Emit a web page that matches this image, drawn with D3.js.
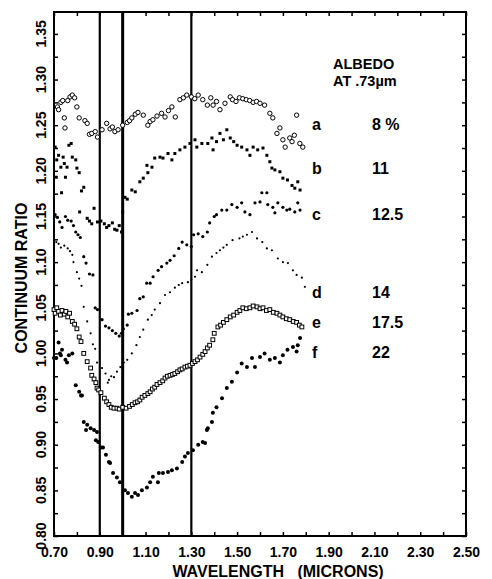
<!DOCTYPE html>
<html>
<head>
<meta charset="utf-8">
<script src="https://cdn.jsdelivr.net/npm/d3@7"></script>
<style>
  body { margin: 0; background: #fff; }
  svg text { font-family: "Liberation Sans", Arial, sans-serif; font-weight: bold; fill: #000; }
</style>
</head>
<body>
<div id="chart"></div>
<script>
// 各曲線のデータ [波長(μm), 連続体比]
const curveA = [[0.715,1.270],[0.72,1.267],[0.73,1.275],[0.738,1.277],[0.745,1.258],[0.748,1.247],[0.76,1.277],[0.77,1.281],[0.78,1.283],[0.79,1.280],[0.80,1.270],[0.81,1.258],[0.835,1.255],[0.845,1.252],[0.855,1.240],[0.865,1.241],[0.88,1.243],[0.89,1.237],[0.91,1.245],[0.93,1.252],[0.945,1.246],[0.955,1.248],[0.966,1.243],[0.98,1.245],[1.00,1.250],[1.02,1.253],[1.03,1.255],[1.04,1.258],[1.055,1.262],[1.067,1.264],[1.09,1.261],[1.11,1.250],[1.12,1.254],[1.132,1.256],[1.15,1.260],[1.17,1.263],[1.185,1.259],[1.20,1.266],[1.215,1.270],[1.23,1.259],[1.25,1.278],[1.265,1.280],[1.28,1.283],[1.30,1.281],[1.315,1.279],[1.33,1.283],[1.35,1.278],[1.37,1.272],[1.385,1.280],[1.395,1.272],[1.41,1.276],[1.425,1.267],[1.447,1.274],[1.47,1.281],[1.48,1.278],[1.495,1.276],[1.51,1.280],[1.525,1.279],[1.54,1.278],[1.555,1.277],[1.57,1.275],[1.585,1.276],[1.60,1.274],[1.62,1.272],[1.643,1.263],[1.656,1.258],[1.674,1.241],[1.687,1.247],[1.70,1.234],[1.71,1.226],[1.73,1.236],[1.74,1.232],[1.75,1.239],[1.76,1.261],[1.774,1.230],[1.787,1.226]];
const curveB = [[0.705,1.226],[0.71,1.193],[0.712,1.212],[0.72,1.217],[0.73,1.204],[0.733,1.176],[0.74,1.215],[0.745,1.208],[0.75,1.193],[0.757,1.204],[0.765,1.228],[0.775,1.230],[0.78,1.215],[0.795,1.212],[0.80,1.203],[0.81,1.198],[0.812,1.155],[0.82,1.178],[0.83,1.182],[0.845,1.148],[0.855,1.145],[0.865,1.142],[0.875,1.159],[0.89,1.144],[0.905,1.145],[0.92,1.142],[0.93,1.138],[0.94,1.140],[0.955,1.143],[0.965,1.136],[0.975,1.135],[0.985,1.140],[0.995,1.133],[1.0,1.155],[1.01,1.171],[1.02,1.169],[1.04,1.179],[1.055,1.177],[1.075,1.188],[1.09,1.192],[1.106,1.206],[1.11,1.198],[1.128,1.204],[1.14,1.214],[1.163,1.215],[1.176,1.214],[1.198,1.219],[1.215,1.212],[1.228,1.219],[1.25,1.223],[1.272,1.226],[1.294,1.230],[1.316,1.234],[1.324,1.226],[1.346,1.230],[1.372,1.230],[1.39,1.236],[1.395,1.223],[1.41,1.232],[1.425,1.241],[1.44,1.234],[1.455,1.245],[1.47,1.236],[1.485,1.232],[1.50,1.228],[1.52,1.226],[1.543,1.223],[1.556,1.217],[1.57,1.226],[1.59,1.223],[1.613,1.225],[1.63,1.217],[1.643,1.210],[1.652,1.203],[1.665,1.201],[1.687,1.199],[1.70,1.192],[1.72,1.190],[1.74,1.184],[1.752,1.181],[1.765,1.188],[1.775,1.179]];
const curveC = [[0.705,1.152],[0.715,1.149],[0.725,1.144],[0.735,1.138],[0.75,1.150],[0.76,1.146],[0.775,1.145],[0.785,1.140],[0.795,1.133],[0.805,1.130],[0.815,1.127],[0.83,1.106],[0.84,1.099],[0.855,1.087],[0.87,1.086],[0.88,1.050],[0.89,1.048],[0.91,1.037],[0.925,1.030],[0.94,1.028],[0.955,1.025],[0.97,1.022],[0.985,1.019],[0.995,1.022],[1.003,1.027],[1.02,1.031],[1.025,1.043],[1.04,1.044],[1.063,1.047],[1.075,1.060],[1.09,1.062],[1.105,1.077],[1.12,1.077],[1.133,1.084],[1.155,1.091],[1.17,1.095],[1.193,1.099],[1.207,1.102],[1.225,1.107],[1.245,1.115],[1.26,1.122],[1.28,1.119],[1.30,1.117],[1.31,1.130],[1.33,1.131],[1.35,1.128],[1.37,1.133],[1.38,1.143],[1.40,1.150],[1.41,1.152],[1.433,1.157],[1.455,1.157],[1.477,1.163],[1.50,1.160],[1.52,1.165],[1.534,1.155],[1.556,1.152],[1.578,1.165],[1.60,1.166],[1.608,1.176],[1.63,1.176],[1.634,1.163],[1.656,1.160],[1.665,1.154],[1.678,1.165],[1.70,1.160],[1.717,1.157],[1.73,1.158],[1.752,1.155],[1.765,1.165],[1.775,1.157]];
const curveD = [[0.71,1.122],[0.72,1.120],[0.73,1.116],[0.745,1.118],[0.76,1.115],[0.77,1.112],[0.78,1.108],[0.785,1.100],[0.80,1.089],[0.81,1.082],[0.82,1.074],[0.83,1.051],[0.845,1.035],[0.86,1.022],[0.87,1.010],[0.88,1.005],[0.888,0.990],[0.91,0.984],[0.925,0.978],[0.935,0.968],[0.94,0.971],[0.95,0.975],[0.962,0.974],[0.975,0.980],[0.99,0.985],[1.005,0.990],[1.02,0.993],[1.04,1.000],[1.06,1.009],[1.075,1.018],[1.09,1.026],[1.11,1.037],[1.127,1.042],[1.14,1.048],[1.163,1.055],[1.185,1.064],[1.207,1.067],[1.228,1.072],[1.245,1.075],[1.26,1.077],[1.285,1.078],[1.30,1.081],[1.316,1.084],[1.325,1.091],[1.346,1.089],[1.37,1.097],[1.39,1.106],[1.41,1.110],[1.425,1.113],[1.44,1.116],[1.455,1.119],[1.48,1.124],[1.51,1.126],[1.525,1.128],[1.543,1.130],[1.565,1.133],[1.587,1.126],[1.61,1.122],[1.63,1.115],[1.652,1.113],[1.678,1.104],[1.70,1.100],[1.722,1.099],[1.744,1.091],[1.76,1.086],[1.783,1.083],[1.796,1.073]];
const curveE = [[0.70,1.048],[0.705,1.044],[0.712,1.050],[0.72,1.046],[0.728,1.042],[0.735,1.047],[0.745,1.043],[0.752,1.046],[0.76,1.040],[0.768,1.044],[0.78,1.035],[0.79,1.032],[0.80,1.027],[0.81,1.018],[0.818,1.013],[0.83,1.000],[0.845,0.991],[0.86,0.984],[0.865,0.976],[0.875,0.972],[0.883,0.968],[0.888,0.962],[0.895,0.960],[0.905,0.957],[0.92,0.951],[0.93,0.947],[0.94,0.944],[0.95,0.941],[0.962,0.940],[0.975,0.940],[0.985,0.939],[1.0,0.941],[1.015,0.940],[1.03,0.942],[1.042,0.944],[1.054,0.946],[1.065,0.947],[1.075,0.949],[1.085,0.952],[1.097,0.954],[1.11,0.956],[1.12,0.958],[1.13,0.961],[1.14,0.963],[1.15,0.966],[1.163,0.968],[1.175,0.970],[1.185,0.973],[1.195,0.975],[1.207,0.976],[1.218,0.977],[1.228,0.978],[1.24,0.980],[1.25,0.982],[1.26,0.983],[1.272,0.985],[1.283,0.986],[1.294,0.987],[1.305,0.989],[1.316,0.991],[1.327,0.993],[1.338,0.996],[1.35,0.999],[1.36,1.002],[1.37,1.006],[1.38,1.009],[1.394,1.015],[1.40,1.022],[1.416,1.029],[1.428,1.031],[1.44,1.034],[1.455,1.037],[1.47,1.040],[1.485,1.042],[1.50,1.045],[1.512,1.047],[1.525,1.050],[1.54,1.049],[1.556,1.050],[1.57,1.052],[1.587,1.051],[1.60,1.049],[1.613,1.050],[1.628,1.047],[1.643,1.048],[1.658,1.045],[1.674,1.044],[1.687,1.042],[1.70,1.040],[1.715,1.038],[1.73,1.037],[1.745,1.035],[1.76,1.034],[1.772,1.031],[1.783,1.029]];
const curveF = [[0.70,0.995],[0.71,0.995],[0.72,1.012],[0.726,1.000],[0.73,0.998],[0.735,1.004],[0.75,0.993],[0.757,0.990],[0.765,0.998],[0.78,1.000],[0.795,0.965],[0.81,0.958],[0.818,0.954],[0.822,0.954],[0.83,0.925],[0.84,0.916],[0.845,0.922],[0.86,0.918],[0.875,0.916],[0.883,0.905],[0.888,0.914],[0.893,0.903],[0.905,0.897],[0.914,0.897],[0.927,0.889],[0.94,0.881],[0.945,0.880],[0.958,0.869],[0.975,0.864],[0.988,0.859],[1.01,0.850],[1.023,0.847],[1.04,0.843],[1.054,0.847],[1.067,0.845],[1.084,0.850],[1.106,0.853],[1.12,0.859],[1.132,0.865],[1.154,0.859],[1.158,0.869],[1.176,0.869],[1.198,0.870],[1.215,0.872],[1.237,0.874],[1.26,0.881],[1.272,0.887],[1.285,0.891],[1.307,0.894],[1.33,0.900],[1.35,0.903],[1.36,0.902],[1.368,0.916],[1.372,0.918],[1.39,0.925],[1.394,0.935],[1.41,0.941],[1.434,0.951],[1.455,0.962],[1.477,0.969],[1.50,0.979],[1.52,0.989],[1.543,0.985],[1.565,0.995],[1.578,0.985],[1.60,0.996],[1.62,1.000],[1.643,0.993],[1.665,0.995],[1.687,0.990],[1.70,0.998],[1.72,1.004],[1.744,1.007],[1.76,1.002],[1.765,1.009],[1.775,1.017]];

// 凡例
const curveLetters = ['a', 'b', 'c', 'd', 'e', 'f'];
const albedoValues = ['8 %', '11', '12.5', '14', '17.5', '22'];
const labelRatios = [1.251, 1.203, 1.153, 1.067, 1.034, 1.001];

// 軸
const xTicks = d3.range(0, 19).map(i => +(0.7 + i * 0.1).toFixed(2));
const xTickLabels = ['0.70', '0.90', '1.10', '1.30', '1.50', '1.70', '1.90', '2.10', '2.30', '2.50'];
const yTicks = d3.range(0, 23).map(i => +(0.8 + i * 0.025).toFixed(3));
const yTickLabels = ['0.80', '0.85', '0.90', '0.95', '1.00', '1.05', '1.10', '1.15', '1.20', '1.25', '1.30', '1.35'];
const bandLines = [0.9, 1.0, 1.3];

const W = 492, H = 579;
const margins = { top: 12, right: 26, bottom: 43, left: 54 };

const svg = d3.select('#chart').append('svg')
    .attr('width', W)
    .attr('height', H);

svg.append('rect').attr('width', W).attr('height', H).attr('fill', '#fff');

const x = d3.scaleLinear().domain([0.7, 2.5]).range([margins.left, W - margins.right]);
const y = d3.scaleLinear().domain([0.8, 1.374]).range([H - margins.bottom, margins.top]);

// 目盛り（内向き）
const fmtX = d => { const s = d.toFixed(2); return xTickLabels.includes(s) ? s : ''; };
svg.append('g')
    .attr('transform', `translate(0,${y.range()[0]})`)
    .call(d3.axisBottom(x).tickValues(xTicks).tickSize(-4).tickPadding(11).tickFormat(fmtX))
    .call(g => g.select('.domain').remove())
    .call(g => g.selectAll('line').attr('stroke-width', 1.5))
    .call(g => g.selectAll('text').style('font-size', '14px').attr('font-family', null));

svg.append('g')
    .attr('transform', `translate(0,${y.range()[1]})`)
    .call(d3.axisTop(x).tickValues(xTicks).tickSize(-4).tickFormat(''))
    .call(g => g.select('.domain').remove())
    .call(g => g.selectAll('line').attr('stroke-width', 1.5));

svg.append('g')
    .attr('transform', `translate(${x.range()[0]},0)`)
    .call(d3.axisLeft(y).tickValues(yTicks).tickSize(-4).tickFormat(''))
    .call(g => g.select('.domain').remove())
    .call(g => g.selectAll('line').attr('stroke-width', 1.5));

svg.append('g')
    .attr('transform', `translate(${x.range()[1]},0)`)
    .call(d3.axisRight(y).tickValues(yTicks).tickSize(-4).tickFormat(''))
    .call(g => g.select('.domain').remove())
    .call(g => g.selectAll('line').attr('stroke-width', 1.5));

// Y軸ラベル（縦書き）
svg.append('g').selectAll('text')
    .data(yTickLabels)
    .enter()
    .append('text')
    .attr('transform', d => `translate(41,${y(+d)}) rotate(-90)`)
    .attr('text-anchor', 'middle')
    .attr('dy', '0.36em')
    .style('font-size', '14px')
    .text(d => d);

// 枠
svg.append('rect')
    .attr('x', x.range()[0])
    .attr('y', y.range()[1])
    .attr('width', x.range()[1] - x.range()[0])
    .attr('height', y.range()[0] - y.range()[1])
    .attr('fill', 'none')
    .attr('stroke', '#000')
    .attr('stroke-width', 2);

// 縦線
svg.append('g').selectAll('line')
    .data(bandLines)
    .enter()
    .append('line')
    .attr('x1', d => x(d)).attr('x2', d => x(d))
    .attr('y1', y.range()[1]).attr('y2', y.range()[0])
    .attr('stroke', '#000')
    .attr('stroke-width', d => d === 1.0 ? 3 : 2.2);

// 点の描画
const plot = svg.append('g');

function drawCircles(data, r, filled) {
    plot.append('g').selectAll('circle')
        .data(data)
        .enter()
        .append('circle')
        .attr('cx', d => x(d[0]))
        .attr('cy', d => y(d[1]))
        .attr('r', r)
        .attr('fill', filled ? '#000' : '#fff')
        .attr('stroke', '#000')
        .attr('stroke-width', filled ? 0 : 1);
}

function drawSquares(data, s, filled) {
    plot.append('g').selectAll('rect')
        .data(data)
        .enter()
        .append('rect')
        .attr('x', d => x(d[0]) - s / 2)
        .attr('y', d => y(d[1]) - s / 2)
        .attr('width', s)
        .attr('height', s)
        .attr('fill', filled ? '#000' : '#fff')
        .attr('stroke', '#000')
        .attr('stroke-width', filled ? 0 : 1);
}

drawCircles(curveA, 2.2, false);
drawSquares(curveB, 3, true);
drawCircles(curveC, 1.6, true);
drawCircles(curveD, 1.1, true);
drawSquares(curveE, 3.8, false);
drawCircles(curveF, 2, true);

// 凡例
const legend = svg.append('g');
legend.append('text').attr('x', 333).attr('y', 64).attr('dy', '0.36em')
    .style('font-size', '14.5px').text('ALBEDO');
legend.append('text').attr('x', 333).attr('y', 81).attr('dy', '0.36em')
    .style('font-size', '14.5px').text('AT .73\u00b5m');

curveLetters.forEach((letter, i) => {
    legend.append('text')
        .attr('x', 312)
        .attr('y', y(labelRatios[i]))
        .attr('dy', '0.36em')
        .style('font-size', '16px')
        .text(letter);
    legend.append('text')
        .attr('x', 372)
        .attr('y', y(labelRatios[i]))
        .attr('dy', '0.36em')
        .style('font-size', '16px')
        .text(albedoValues[i]);
});

// 軸タイトル
svg.append('text')
    .attr('transform', `translate(21,${278}) rotate(-90)`)
    .attr('text-anchor', 'middle')
    .attr('dy', '0.36em')
    .style('font-size', '16px')
    .text('CONTINUUM RATIO');

svg.append('text')
    .attr('x', 278)
    .attr('y', 571)
    .attr('text-anchor', 'middle')
    .attr('dy', '0.36em')
    .style('font-size', '16px')
    .style('white-space', 'pre')
    .text('WAVELENGTH   (MICRONS)');
</script>
</body>
</html>
